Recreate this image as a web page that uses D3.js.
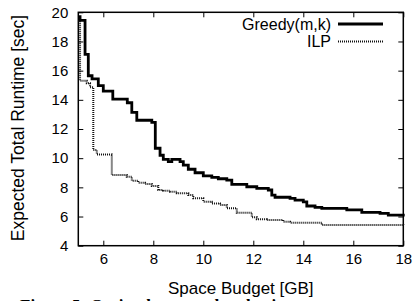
<!DOCTYPE html>
<html>
<head>
<meta charset="utf-8">
<script src="https://cdn.jsdelivr.net/npm/d3@7"></script>
<style>
  body{margin:0;background:#fff;}
  text{font-family:"Liberation Sans",Arial,sans-serif;fill:#000;}
</style>
</head>
<body>
<svg id="chart"></svg>
<script>
// values (step plots)
const greedyBudget = [5.0,5.07,5.27,5.4,5.55,5.8,6.0,6.38,6.96,7.14,7.34,7.94,8.08,8.27,8.4,8.6,8.74,9.07,9.2,9.4,9.67,10.0,10.34,10.6,10.94,11.14,11.74,12.14,12.6,12.74,12.87,13.47,13.67,14.0,14.14,14.47,14.74,15.74,16.34,17.07,17.4,18.0]
const greedyRuntime = [19.7,19.45,17.12,15.65,15.43,14.97,14.6,14.05,13.8,13.14,12.6,12.45,10.68,10.2,9.92,9.76,9.92,9.76,9.53,9.24,9.0,8.78,8.69,8.59,8.5,8.2,8.04,7.93,7.82,7.47,7.32,7.25,7.13,7.0,6.72,6.63,6.56,6.45,6.29,6.22,6.1,6.0]

const ilpBudget = [5.0,5.07,5.34,5.47,5.6,5.74,6.34,6.94,7.14,7.4,7.67,7.94,8.2,8.4,8.67,8.94,9.4,9.6,10.0,10.34,10.67,10.94,11.34,11.94,12.14,12.54,13.2,13.47,14.74,18.0]
const ilpRuntime = [19.4,15.3,15.13,14.86,10.56,10.26,8.85,8.73,8.46,8.32,8.23,8.09,7.82,7.77,7.7,7.6,7.47,7.25,7.02,6.9,6.79,6.56,6.26,5.95,5.81,5.76,5.64,5.58,5.42,5.4]

const xTicks = [6,8,10,12,14,16,18]
const yTicks = [4,6,8,10,12,14,16,18,20]
const seriesNames = ['Greedy(m,k)','ILP']

const width = 416, height = 301
const margins = {top: 12.3, bottom: 55.3, left: 78.3, right: 12.7}

const svg = d3.select('#chart')
              .attr('width', width)
              .attr('height', height)

const xScale = d3.scaleLinear()
                 .domain([5,18])
                 .range([margins.left, width - margins.right])
const yScale = d3.scaleLinear()
                 .domain([4,20])
                 .range([height - margins.bottom, margins.top])

const greedy = greedyBudget.map((b,i) => ({x: b, y: greedyRuntime[i]}))
const ilp = ilpBudget.map((b,i) => ({x: b, y: ilpRuntime[i]}))

// axes, ticks pointing inwards and mirrored like gnuplot
const tick = 5
svg.append('g')
   .attr('transform', `translate(0,${height - margins.bottom})`)
   .call(d3.axisBottom(xScale).tickValues(xTicks).tickSizeInner(-tick).tickSizeOuter(0).tickPadding(8))
svg.append('g')
   .attr('transform', `translate(0,${margins.top})`)
   .call(d3.axisTop(xScale).tickValues(xTicks).tickSizeInner(-tick).tickSizeOuter(0).tickFormat(''))
svg.append('g')
   .attr('transform', `translate(${margins.left},0)`)
   .call(d3.axisLeft(yScale).tickValues(yTicks).tickSizeInner(-tick).tickSizeOuter(0).tickPadding(10))
svg.append('g')
   .attr('transform', `translate(${width - margins.right},0)`)
   .call(d3.axisRight(yScale).tickValues(yTicks).tickSizeInner(-tick).tickSizeOuter(0).tickFormat(''))

svg.selectAll('.domain').remove()
svg.selectAll('.tick line').attr('stroke','#000').attr('stroke-width',1)
svg.selectAll('.tick text')
   .attr('font-size','15px')
   .attr('font-family','"Liberation Sans",Arial,sans-serif')
   .attr('fill','#000')

svg.append('rect')
   .attr('x', margins.left)
   .attr('y', margins.top)
   .attr('width', width - margins.left - margins.right)
   .attr('height', height - margins.top - margins.bottom)
   .attr('fill','none')
   .attr('stroke','#000')
   .attr('stroke-width',1.5)

const line = d3.line()
               .curve(d3.curveStepAfter)
               .x(d => xScale(d.x))
               .y(d => yScale(d.y))

svg.append('path')
   .datum(ilp)
   .attr('fill','none')
   .attr('stroke','#111')
   .attr('stroke-width',2)
   .attr('stroke-dasharray','1,1')
   .attr('d', line)

svg.append('path')
   .datum(greedy)
   .attr('fill','none')
   .attr('stroke','#000')
   .attr('stroke-width',2.8)
   .attr('d', line)

// legend
const legend = svg.selectAll('.legend')
                  .data(seriesNames)
                  .enter()
                  .append('g')
                  .attr('class','legend')
                  .attr('transform', (d,i) => `translate(0,${24 + i*17.5})`)
legend.append('text')
      .attr('x', 331)
      .attr('y', 5.5)
      .attr('text-anchor','end')
      .attr('font-size','16px')
      .text(d => d)
legend.append('line')
      .attr('x1', 338)
      .attr('x2', 383)
      .attr('stroke', (d,i) => i === 0 ? '#000' : '#111')
      .attr('stroke-width', (d,i) => i === 0 ? 2.8 : 2)
      .attr('stroke-dasharray', (d,i) => i === 0 ? null : '1,1')

// axis titles
svg.append('text')
   .attr('x', (margins.left + width - margins.right) / 2)
   .attr('y', 294)
   .attr('text-anchor','middle')
   .attr('font-size','17px')
   .text('Space Budget [GB]')
svg.append('text')
   .attr('transform','translate(24,128) rotate(-90)')
   .attr('text-anchor','middle')
   .attr('font-size','17.5px')
   .text('Expected Total Runtime [sec]')

// caption, cut off by the bottom edge like in the source figure
svg.append('text')
   .attr('x', 20)
   .attr('y', 311)
   .attr('font-size','17px')
   .attr('font-weight','bold')
   .style('font-family','"Liberation Serif",serif')
   .text('Figure 5: Optimal vs. greedy selection')
</script>
</body>
</html>
